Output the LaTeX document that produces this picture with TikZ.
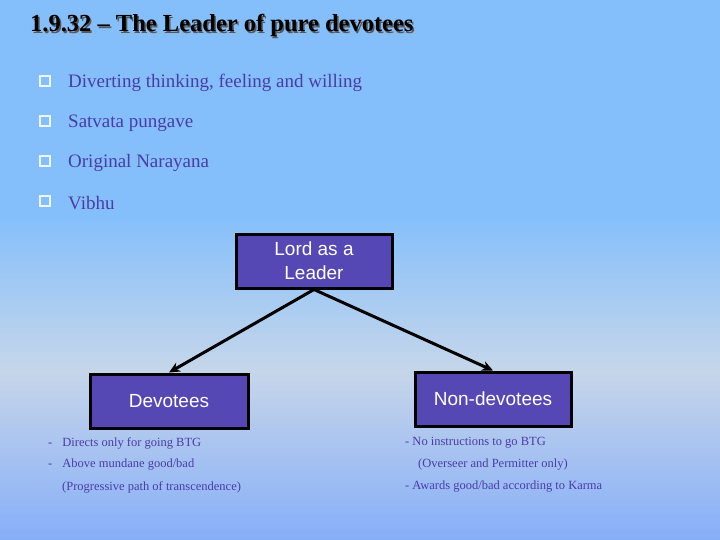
\documentclass[tikz,border=0pt]{standalone}
\usepackage{fontspec}
\setmainfont{Liberation Serif}
\setsansfont{Liberation Sans}
\usetikzlibrary{arrows.meta,positioning}
\definecolor{skytop}{HTML}{84BFFB}
\definecolor{skymid}{HTML}{C6D6EA}
\definecolor{skybot}{HTML}{86AEF8}
\definecolor{boxfill}{HTML}{5548B4}
\definecolor{ink}{HTML}{4A3CA8}
\tikzset{
  leadbox/.style={draw, line width=3pt, fill=boxfill, text=white, align=center, font=\sffamily\fontsize{19}{24}\selectfont, minimum height=54pt, inner sep=2pt},
  item/.style={anchor=west, text=ink, font=\fontsize{19}{22}\selectfont, inner sep=0pt},
  note/.style={anchor=west, text=ink, font=\fontsize{12.5}{14}\selectfont, inner sep=0pt},
  tick/.style={draw=white!85!skytop, line width=2pt, minimum size=10pt, inner sep=0pt},
  line/.style={-{Stealth[length=11pt,width=10pt]}, line width=3pt}
}
\begin{document}
\begin{tikzpicture}[x=1pt, y=-1pt]
  \useasboundingbox (0,0) rectangle (720,540);
  \fill[skytop] (0,0) rectangle (720,215);
  \shade[top color=skytop, bottom color=skymid] (0,214) rectangle (720,372);
  \shade[top color=skymid, bottom color=skybot] (0,371) rectangle (720,540);

  % title
  \node[anchor=west, text=gray!70!black, font=\bfseries\fontsize{24.5}{28}\selectfont, inner sep=0pt] at (31.5,27) {1.9.32 -- The Leader of pure devotees};
  \node[anchor=west, font=\bfseries\fontsize{24.5}{28}\selectfont, inner sep=0pt] (title) at (30,25.5) {1.9.32 -- The Leader of pure devotees};

  % bullets
  \foreach \t [count=\i] in {{Diverting thinking, feeling and willing}, Satvata pungave, Original Narayana, Vibhu} {
    \node[tick] (b\i) at (45,41+40*\i) {};
    \node[item] (t\i) at (68,43+40*\i) {\t};
  }

  % boxes
  \node[leadbox, minimum width=156pt] (lord) at (314,261) {Lord as a\\Leader};
  \node[leadbox, minimum width=158pt] (dev) at (169,401) {\raisebox{-2pt}{Devotees}};
  \node[leadbox, minimum width=156pt] (nondev) at (493,399) {Non-devotees};

  \draw[line] (lord.south) -- (dev.north);
  \draw[line] (lord.south) -- (nondev.north);

  % notes
  \node[note] (d1) at (48,443) {-\hspace{10pt}Directs only for going BTG};
  \node[note] (d2) at (48,465) {-\hspace{10pt}Above mundane good/bad};
  \node[note] (d3) at (62,487) {(Progressive path of transcendence)};
  \node[note] (n1) at (405,443) {- No instructions to go BTG};
  \node[note] (n2) at (418,465) {(Overseer and Permitter only)};
  \node[note] (n3) at (405,487) {- Awards good/bad according to Karma};
\end{tikzpicture}
\end{document}
